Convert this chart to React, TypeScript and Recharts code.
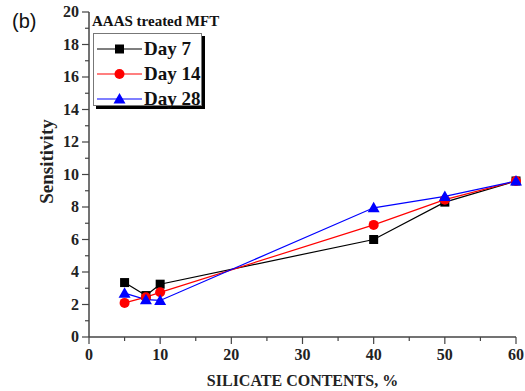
import React from "react";
import { LineChart, Line, XAxis, YAxis, Legend } from "recharts";

const silicate = [5, 8, 10, 40, 50, 60];
const day7 = [3.35, 2.55, 3.25, 6.0, 8.3, 9.6];
const day14 = [2.1, 2.45, 2.75, 6.9, 8.45, 9.6];
const day28 = [2.7, 2.3, 2.25, 7.95, 8.65, 9.6];

const xTicks = [0, 5, 10, 15, 20, 25, 30, 35, 40, 45, 50, 55, 60];
const yTicks = [0, 1, 2, 3, 4, 5, 6, 7, 8, 9, 10, 11, 12, 13, 14, 15, 16, 17, 18, 19, 20];

const series = [
  { key: "day7", name: "Day 7", color: "#000000", shape: "square" },
  { key: "day14", name: "Day 14", color: "#ff0000", shape: "circle" },
  { key: "day28", name: "Day 28", color: "#0000ff", shape: "triangle" },
];

const data = silicate.map((x, i) => ({ x, day7: day7[i], day14: day14[i], day28: day28[i] }));

const serif = "'Liberation Serif', 'Times New Roman', serif";
const axisColor = "#444";

function Marker({ cx, cy, shape, color }: any) {
  if (cx == null || cy == null) return null;
  if (shape === "square") return <rect x={cx - 4.5} y={cy - 4.5} width={9} height={9} fill={color} />;
  if (shape === "circle") return <circle cx={cx} cy={cy} r={5} fill={color} />;
  return <polygon points={`${cx},${cy - 6} ${cx - 6},${cy + 4.5} ${cx + 6},${cy + 4.5}`} fill={color} />;
}

const YTick = ({ x, y, payload }: any) => {
  const major = payload.value % 2 === 0;
  return (
    <g>
      <line x1={x} x2={x - (major ? 7 : 4)} y1={y} y2={y} stroke={axisColor} strokeWidth={1.2} />
      {major && (
        <text x={x - 10} y={y} dy={5} textAnchor="end" fontFamily={serif} fontWeight="bold" fontSize={16} fill="#222">
          {payload.value}
        </text>
      )}
    </g>
  );
};

const XTick = ({ x, y, payload }: any) => {
  const major = payload.value % 10 === 0;
  return (
    <g>
      <line x1={x} x2={x} y1={y} y2={y + (major ? 7 : 4)} stroke={axisColor} strokeWidth={1.2} />
      {major && (
        <text x={x} y={y + 23} textAnchor="middle" fontFamily={serif} fontWeight="bold" fontSize={16} fill="#222">
          {payload.value}
        </text>
      )}
    </g>
  );
};

const LegendBox = () => (
  <div
    style={{
      width: 109,
      height: 73,
      border: "1px solid #777",
      boxShadow: "3px 3px 0 #000",
      background: "#fff",
      paddingTop: 2,
      boxSizing: "border-box",
    }}
  >
    {series.map((s) => (
      <div key={s.key} style={{ display: "flex", alignItems: "center", height: 25 }}>
        <svg width={50} height={16} style={{ display: "block" }}>
          <line x1={3} x2={48} y1={8} y2={8} stroke={s.color} strokeWidth={1.2} />
          <Marker cx={25.5} cy={8} shape={s.shape} color={s.color} />
        </svg>
        <span style={{ fontFamily: serif, fontWeight: "bold", fontSize: 19, color: "#111", lineHeight: 1 }}>
          {s.name}
        </span>
      </div>
    ))}
  </div>
);

export default function App() {
  return (
    <div style={{ position: "absolute", left: 0, top: 0, width: 525, height: 391, background: "#fff" }}>
      <div style={{ position: "absolute", left: 12, top: 10, fontFamily: "'Liberation Sans', Arial, sans-serif", fontSize: 20, color: "#111" }}>
        (b)
      </div>
      <LineChart width={525} height={391} data={data} margin={{ top: 12, right: 9, bottom: 0, left: 0 }}>
        <XAxis
          dataKey="x"
          type="number"
          domain={[0, 60]}
          ticks={xTicks}
          interval={0}
          height={54}
          tickSize={0}
          tickMargin={0}
          tickLine={false}
          tick={<XTick />}
          stroke={axisColor}
          strokeWidth={1.5}
          label={{
            content: ({ viewBox }: any) => (
              <text x={viewBox.x + viewBox.width / 2} y={viewBox.y + 49} textAnchor="middle" fontFamily={serif} fontWeight="bold" fontSize={16} fill="#222">
                SILICATE CONTENTS, %
              </text>
            ),
          }}
        />
        <XAxis xAxisId="top" orientation="top" type="number" domain={[0, 60]} height={0} tick={false} tickLine={false} stroke={axisColor} strokeWidth={1.5} />
        <YAxis
          type="number"
          domain={[0, 20]}
          ticks={yTicks}
          interval={0}
          width={89}
          tickSize={0}
          tickMargin={0}
          tickLine={false}
          tick={<YTick />}
          stroke={axisColor}
          strokeWidth={1.5}
          label={{
            content: ({ viewBox }: any) => {
              const cx = 46;
              const cy = viewBox.y + viewBox.height / 2 - 13;
              return (
                <text x={cx} y={cy} transform={`rotate(-90 ${cx} ${cy})`} textAnchor="middle" dominantBaseline="central" fontFamily={serif} fontWeight="bold" fontSize={19} fill="#222">
                  Sensitivity
                </text>
              );
            },
          }}
        />
        <YAxis yAxisId="right" orientation="right" type="number" domain={[0, 20]} width={0} tick={false} tickLine={false} stroke={axisColor} strokeWidth={1.5} />
        <Legend
          layout="vertical"
          align="center"
          verticalAlign="middle"
          content={<LegendBox />}
          wrapperStyle={{ position: "absolute", left: 93, top: 33, width: 112, height: 76 }}
        />
        {series.map((s) => (
          <Line
            key={s.key}
            dataKey={s.key}
            name={s.name}
            stroke={s.color}
            strokeWidth={1.2}
            isAnimationActive={false}
            dot={(p: any) => <Marker key={`${s.key}-${p.index}`} cx={p.cx} cy={p.cy} shape={s.shape} color={s.color} />}
            activeDot={false}
          />
        ))}
      </LineChart>
      <div style={{ position: "absolute", left: 92, top: 14, fontFamily: serif, fontWeight: "bold", fontSize: 15, color: "#111", lineHeight: 1 }}>
        AAAS treated MFT
      </div>
    </div>
  );
}
